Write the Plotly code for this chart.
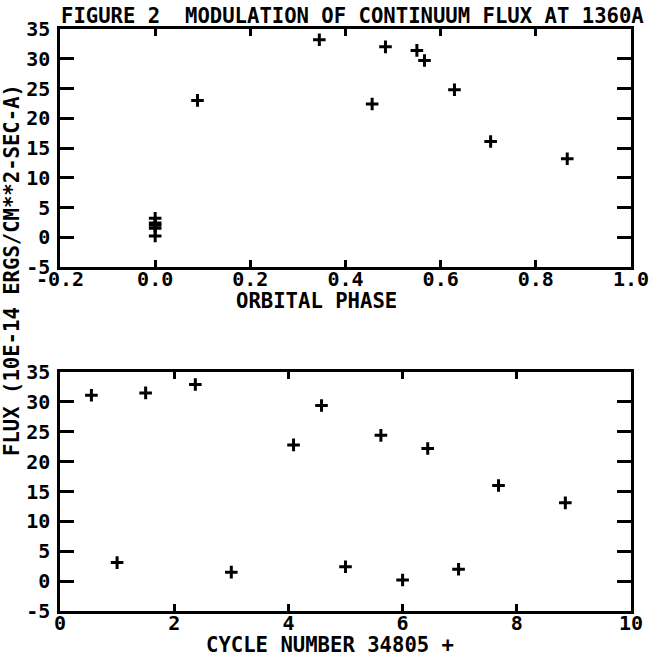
import plotly.graph_objects as go

# ---- data ----
phase = [0.0, 0.0, 0.0, 0.0, 0.0, 0.089, 0.345, 0.456, 0.484, 0.550, 0.566, 0.629, 0.705, 0.866]
flux_phase = [3.2, 2.4, 2.0, 1.5, 0.2, 23.0, 33.2, 22.4, 32.0, 31.4, 29.7, 24.8, 16.1, 13.2]

cycle = [0.55, 1.0, 1.5, 2.37, 3.0, 4.09, 4.58, 5.0, 5.62, 6.0, 6.44, 6.98, 7.68, 8.85]
flux_cycle = [31.1, 3.1, 31.5, 32.9, 1.5, 22.8, 29.4, 2.4, 24.4, 0.2, 22.2, 2.0, 16.0, 13.1]

phase_ticks = [-0.2, 0.0, 0.2, 0.4, 0.6, 0.8, 1.0]
phase_ticktext = ["-0.2", "0.0", "0.2", "0.4", "0.6", "0.8", "1.0"]
cycle_ticks = [0, 2, 4, 6, 8, 10]
cycle_ticktext = ["0", "2", "4", "6", "8", "10"]
flux_ticks = [-5, 0, 5, 10, 15, 20, 25, 30, 35]
flux_ticktext = ["-5", "0", "5", "10", "15", "20", "25", "30", "35"]

title_text = "FIGURE 2  MODULATION OF CONTINUUM FLUX AT 1360A"
ytitle_text = "FLUX (10E-14 ERGS/CM**2-SEC-A)"
x1title_text = "ORBITAL PHASE"
x2title_text = "CYCLE NUMBER 34805 +"

# ---- layout geometry (pixels) ----
W, H = 665, 657
L, R, T, B = 60, 631, 29, 611
TOP1, BOT1 = 29, 267
TOP2, BOT2 = 372, 611


def fy(py):
    return (B - py) / (B - T)


def fx(px):
    return (px - L) / (R - L)


FONT = "DejaVu Sans Mono"
marker = dict(symbol="cross-thin", size=9, color="black",
              line=dict(color="black", width=3))

fig = go.Figure()
fig.add_trace(go.Scatter(x=phase, y=flux_phase, mode="markers", marker=marker,
                         xaxis="x", yaxis="y", showlegend=False, hoverinfo="x+y"))
fig.add_trace(go.Scatter(x=cycle, y=flux_cycle, mode="markers", marker=marker,
                         xaxis="x2", yaxis="y2", showlegend=False, hoverinfo="x+y"))

tickfont = dict(family=FONT, size=20, color="black", weight="bold")
common = dict(showline=True, linecolor="black", linewidth=2.5, mirror="ticks",
              ticks="inside", tickcolor="black", tickwidth=2.5,
              showgrid=False, zeroline=False, tickfont=tickfont, tickmode="array")

fig.update_layout(
    width=W, height=H,
    margin=dict(l=L, r=W - R, t=T, b=H - B),
    paper_bgcolor="white", plot_bgcolor="white",
    xaxis=dict(domain=[0, 1], anchor="y", range=[-0.2, 1.0],
               tickvals=phase_ticks, ticktext=phase_ticktext, ticklen=7,
               ticklabelstandoff=-8, **common),
    yaxis=dict(domain=[fy(BOT1), fy(TOP1)], anchor="x", range=[-5, 35],
               tickvals=flux_ticks, ticktext=flux_ticktext, ticklen=14,
               ticklabelstandoff=3, **common),
    xaxis2=dict(domain=[0, 1], anchor="y2", range=[0, 10],
                tickvals=cycle_ticks, ticktext=cycle_ticktext, ticklen=7,
                ticklabelstandoff=-8, **common),
    yaxis2=dict(domain=[fy(BOT2), fy(TOP2)], anchor="x2", range=[-5, 35],
                tickvals=flux_ticks, ticktext=flux_ticktext, ticklen=14,
                ticklabelstandoff=3, **common),
)

annfont = dict(family=FONT, size=20.6, color="black", weight="bold")
fig.add_annotation(text=title_text, xref="paper", yref="paper", x=fx(59), y=fy(16),
                   xanchor="left", yanchor="middle", showarrow=False, font=annfont)
fig.add_annotation(text=x1title_text, xref="paper", yref="paper", x=fx(316), y=fy(301),
                   xanchor="center", yanchor="middle", showarrow=False, font=annfont)
fig.add_annotation(text=x2title_text, xref="paper", yref="paper", x=fx(330), y=fy(645),
                   xanchor="center", yanchor="middle", showarrow=False, font=annfont)
fig.add_annotation(text=ytitle_text, xref="paper", yref="paper", x=fx(12), y=fy(270),
                   xanchor="center", yanchor="middle", textangle=-90, showarrow=False,
                   font=annfont)

fig.write_html("out.html")
